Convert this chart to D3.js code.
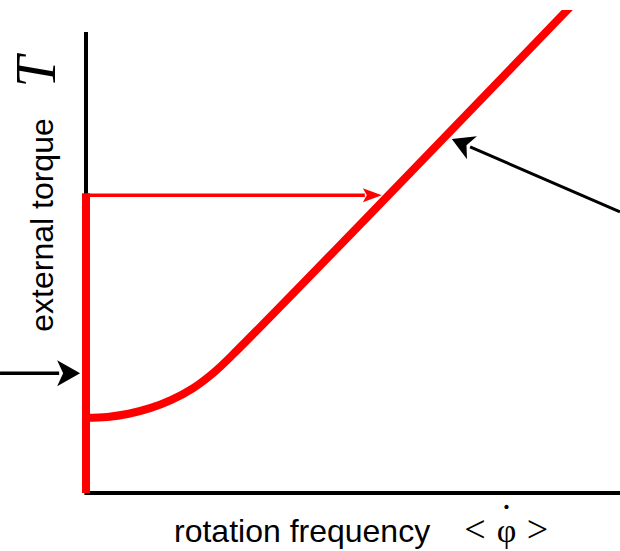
<!DOCTYPE html>
<html>
<head>
<meta charset="utf-8">
<script src="https://cdn.jsdelivr.net/npm/d3@7"></script>
<style>
  html, body { margin: 0; padding: 0; background: #fff; }
  svg { display: block; }
</style>
</head>
<body>
<svg id="chart" width="620" height="551"></svg>
<script>
// Torque vs. mean rotation frequency: locked branch, running branch and asymptote
const lockedBranch = [ // ω stays zero while the torque is below the threshold
  [0, 0], [0, 6.5]
];
const runningBranch = [ // [frequency, torque]
  [0.0, 1.63], [0.4, 1.65], [0.8, 1.72], [1.2, 1.84], [1.6, 2.02],
  [2.0, 2.27], [2.4, 2.62], [2.8, 3.06], [9.19, 10.69]
];
const sweepLevel = 6.46;           // torque of the horizontal sweep
const sweepEnd = 5.54;             // frequency where the sweep meets the branch
const leftPointer = { from: [-1.61, 2.60], to: [-0.11, 2.60] };
const rightPointer = { from: [10.0, 6.10], to: [6.85, 7.68] };
const xLabel = "rotation frequency";
const yLabel = "external torque";
const ySymbol = "T";

const svg = d3.select("#chart");
const x = d3.scaleLinear().domain([0, 10]).range([86, 620]);
const y = d3.scaleLinear().domain([0, 10]).range([493, 32]);

// clip so the running branch stops at the top edge
svg.append("defs").append("clipPath").attr("id", "plotClip")
  .append("rect").attr("x", 0).attr("y", 10).attr("width", 620).attr("height", 541);

// axes as plain lines (no ticks)
svg.append("line")
  .attr("x1", x(0)).attr("x2", x(0)).attr("y1", y(0)).attr("y2", y(10))
  .attr("stroke", "#000").attr("stroke-width", 4);
svg.append("line")
  .attr("x1", x(-0.03)).attr("x2", x(10)).attr("y1", y(0)).attr("y2", y(0))
  .attr("stroke", "#000").attr("stroke-width", 4);

const line = d3.line().x(d => x(d[0])).y(d => y(d[1]));

// locked branch
svg.append("path").datum(lockedBranch)
  .attr("d", line).attr("fill", "none")
  .attr("stroke", "#ff0000").attr("stroke-width", 8);

// running branch
svg.append("path").datum(runningBranch)
  .attr("clip-path", "url(#plotClip)")
  .attr("d", line.curve(d3.curveCatmullRom.alpha(0.5))).attr("fill", "none")
  .attr("stroke", "#ff0000").attr("stroke-width", 8);

// arrowhead helper (notched head, tip at p1)
function arrow(p0, p1, color, width, len, half, notch) {
  const X0 = x(p0[0]), Y0 = y(p0[1]), X1 = x(p1[0]), Y1 = y(p1[1]);
  const dx = X1 - X0, dy = Y1 - Y0, L = Math.hypot(dx, dy);
  const ux = dx / L, uy = dy / L, px = -uy, py = ux;
  svg.append("line")
    .attr("x1", X0).attr("y1", Y0)
    .attr("x2", X1 - ux * (len - 2)).attr("y2", Y1 - uy * (len - 2))
    .attr("stroke", color).attr("stroke-width", width);
  const bx = X1 - ux * len, by = Y1 - uy * len;
  const nx = X1 - ux * notch, ny = Y1 - uy * notch;
  svg.append("path")
    .attr("d", `M${X1},${Y1}L${bx + px * half},${by + py * half}L${nx},${ny}L${bx - px * half},${by - py * half}Z`)
    .attr("fill", color);
}

// horizontal sweep at constant torque
arrow([0, sweepLevel], [sweepEnd, sweepLevel], "#ff0000", 3.5, 19, 7, 15);

// pointers
arrow(leftPointer.from, leftPointer.to, "#000", 3.5, 23, 13, 17);
arrow(rightPointer.from, rightPointer.to, "#000", 3, 22, 12.5, 16);

// axis titles
svg.append("text")
  .attr("transform", "translate(53,225) rotate(-90)")
  .attr("text-anchor", "middle")
  .attr("font-family", "Liberation Sans, Arial, sans-serif")
  .attr("font-size", 32)
  .attr("fill", "#000")
  .text(yLabel);

svg.append("text")
  .attr("transform", "translate(55,72) rotate(-90)")
  .attr("text-anchor", "middle")
  .attr("font-family", "Liberation Serif, Times New Roman, serif")
  .attr("font-style", "italic")
  .attr("font-size", 56)
  .attr("fill", "#000")
  .text(ySymbol);

svg.append("text")
  .attr("x", 174).attr("y", 542)
  .attr("font-family", "Liberation Sans, Arial, sans-serif")
  .attr("font-size", 32)
  .attr("fill", "#000")
  .text(xLabel);

// mean of the phase derivative: < φ̇ >
const sym = svg.append("text")
  .attr("font-family", "Liberation Serif, Times New Roman, serif")
  .attr("font-size", 38)
  .attr("fill", "#000")
  .attr("text-anchor", "middle");
sym.append("tspan").attr("x", 475).attr("y", 542).text("<");
sym.append("tspan").attr("x", 506.5).attr("y", 542).attr("font-size", 34).text("φ");
sym.append("tspan").attr("x", 506.5).attr("y", 531).attr("font-size", 40).text("˙");
sym.append("tspan").attr("x", 537.5).attr("y", 542).text(">");
</script>
</body>
</html>
